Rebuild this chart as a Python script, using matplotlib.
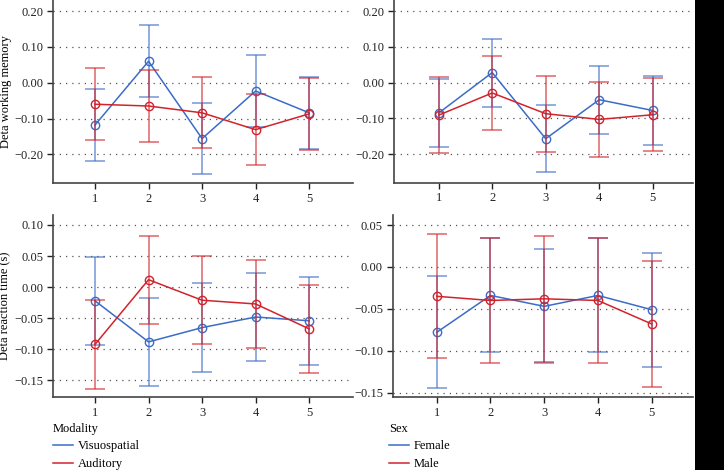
import matplotlib
matplotlib.use("Agg")
import matplotlib.pyplot as plt
from matplotlib.lines import Line2D
from matplotlib.patches import Rectangle
import numpy as np

plt.rcParams['font.family'] = ['Liberation Serif', 'DejaVu Serif']

# Data
groups = [1, 2, 3, 4, 5]

# working memory by modality
wm_visuo = [-0.118, 0.060, -0.156, -0.023, -0.084]
wm_visuo_err = [0.100, 0.100, 0.099, 0.100, 0.100]
wm_audit = [-0.060, -0.065, -0.084, -0.131, -0.087]
wm_audit_err = [0.100, 0.100, 0.099, 0.100, 0.100]

# working memory by sex
wm_female = [-0.085, 0.028, -0.157, -0.048, -0.078]
wm_female_err = [0.094, 0.095, 0.094, 0.095, 0.096]
wm_male = [-0.091, -0.029, -0.087, -0.103, -0.090]
wm_male_err = [0.106, 0.103, 0.106, 0.105, 0.102]

# reaction time by modality
rt_visuo = [-0.022, -0.088, -0.065, -0.048, -0.054]
rt_visuo_err = [0.071, 0.071, 0.071, 0.071, 0.071]
rt_audit = [-0.092, 0.012, -0.021, -0.027, -0.067]
rt_audit_err = [0.071, 0.071, 0.071, 0.071, 0.071]

# reaction time by sex
rt_female = [-0.078, -0.034, -0.047, -0.034, -0.051]
rt_female_err = [0.067, 0.068, 0.068, 0.068, 0.068]
rt_male = [-0.035, -0.040, -0.038, -0.040, -0.068]
rt_male_err = [0.074, 0.074, 0.075, 0.075, 0.075]

blue = '#3b6cc6'
red = '#d2232c'
axis_col = '#444444'


def fmt(t):
    s = '%.2f' % abs(t)
    return s if t >= -1e-9 else '\u2212' + s


def style_axes(ax, yticks, ylim, xlim):
    ax.set_xlim(*xlim)
    ax.set_ylim(*ylim)
    ax.set_xticks(groups)
    ax.set_yticks(yticks)
    ax.set_yticklabels([fmt(t) for t in yticks])
    for s in ['top', 'right']:
        ax.spines[s].set_visible(False)
    for s in ['left', 'bottom']:
        ax.spines[s].set_color(axis_col)
        ax.spines[s].set_linewidth(1.2)
    ax.tick_params(axis='both', labelsize=9, colors='#222222', length=4, width=1, direction='out')
    ax.tick_params(axis='x', pad=3)
    ax.tick_params(axis='y', pad=3)
    ax.yaxis.grid(True, linestyle=(0, (1, 4)), color='#555555', linewidth=0.9)
    ax.set_axisbelow(True)


def draw(ax, y1, e1, y2, e2):
    for y, e, c in [(y1, e1, blue), (y2, e2, red)]:
        ax.errorbar(groups, y, yerr=e, fmt='none', ecolor=c, alpha=0.65,
                    elinewidth=1.2, capsize=7.5, capthick=1.2)
        ax.plot(groups, y, color=c, lw=1.1, marker='o', ms=6, mfc='none', mew=1.0)


fig = plt.figure(figsize=(7.24, 4.70), dpi=100)
ax_tl = fig.add_axes([0.0732, 0.6106, 0.4144, 0.3894])
ax_tr = fig.add_axes([0.5442, 0.6113, 0.4130, 0.3887])
ax_bl = fig.add_axes([0.0732, 0.1547, 0.4144, 0.3879])
ax_br = fig.add_axes([0.5424, 0.1547, 0.4148, 0.3879])

draw(ax_tl, wm_visuo, wm_visuo_err, wm_audit, wm_audit_err)
style_axes(ax_tl, [0.2, 0.1, 0.0, -0.1, -0.2], (-0.28, 0.231), (0.215, 5.82))
ax_tl.set_ylabel('Deta working memory', fontsize=9)
ax_tl.yaxis.set_label_coords(-0.138, 0.5)

draw(ax_tr, wm_female, wm_female_err, wm_male, wm_male_err)
style_axes(ax_tr, [0.2, 0.1, 0.0, -0.1, -0.2], (-0.28, 0.231), (0.163, 5.755))

draw(ax_bl, rt_visuo, rt_visuo_err, rt_audit, rt_audit_err)
style_axes(ax_bl, [0.10, 0.05, 0.0, -0.05, -0.10, -0.15], (-0.177, 0.116), (0.215, 5.82))
ax_bl.set_ylabel('Deta reaction time (s)', fontsize=9)
ax_bl.yaxis.set_label_coords(-0.138, 0.5)

draw(ax_br, rt_female, rt_female_err, rt_male, rt_male_err)
style_axes(ax_br, [0.05, 0.0, -0.05, -0.10, -0.15], (-0.1555, 0.062), (0.18, 5.77))

# legends
leg_kw = dict(loc='upper left', frameon=False, fontsize=9, title_fontsize=9,
              alignment='left', handlelength=1.6, handletextpad=0.4,
              labelspacing=0.45, borderaxespad=0, borderpad=0)
h_mod = [Line2D([], [], color=blue, lw=1.1), Line2D([], [], color=red, lw=1.1)]
ax_bl.legend(h_mod, ['Visuospatial', 'Auditory'], title='Modality',
             bbox_to_anchor=(0.0, -0.14), **leg_kw)
h_sex = [Line2D([], [], color=blue, lw=1.1), Line2D([], [], color=red, lw=1.1)]
ax_br.legend(h_sex, ['Female', 'Male'], title='Sex',
             bbox_to_anchor=(-0.012, -0.14), **leg_kw)

# black strip on the right edge
fig.patches.append(Rectangle((695 / 724, 0), 1 - 695 / 724, 1, transform=fig.transFigure,
                             facecolor='black', edgecolor='none', zorder=10))

fig.savefig('out.png', dpi=100)
